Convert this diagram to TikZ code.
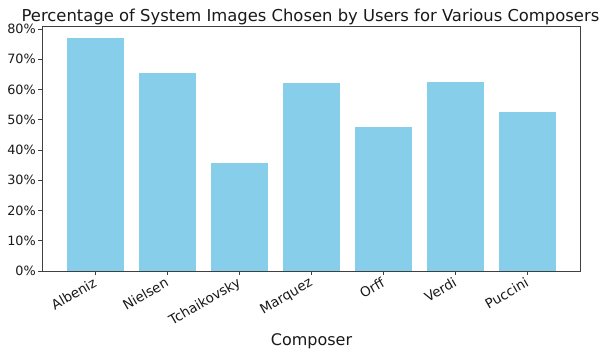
\documentclass[tikz,border=0pt]{standalone}
\usepackage{fontspec}
\setmainfont{DejaVu Sans}
\definecolor{barblue}{HTML}{87CEEB}
\definecolor{spine}{HTML}{404040}
\begin{document}
\begin{tikzpicture}[x=1pt,y=-1pt,
  bar/.style={fill=barblue,draw=none},
  spineline/.style={draw=spine,line width=0.9pt},
  tickline/.style={draw=spine,line width=0.9pt},
  ylab/.style={anchor=east,font=\fontsize{12.8}{14}\selectfont,inner sep=0pt,text=black!90},
  xlab/.style={anchor=north east,rotate=30,font=\fontsize{13.5}{15}\selectfont,inner sep=0pt,text=black!90},
  titlestyle/.style={anchor=base,font=\fontsize{16.4}{18}\selectfont,inner sep=0pt,text=black!90},
  axlabel/.style={anchor=base,font=\fontsize{16}{18}\selectfont,inner sep=0pt,text=black!90}]
\useasboundingbox (0,0) rectangle (602,349);
% bars
\foreach \i/\v in {0/76.9,1/65.6,2/35.6,3/62.1,4/47.6,5/62.6,6/52.5}{
  \fill[bar] ({95.5+72*\i-28.8},271) rectangle ({95.5+72*\i+28.8},{271-3.025*\v});
}
% spines
\draw[spineline] (42.2,26.7) rectangle (580.7,271);
% y ticks
\foreach \v in {0,10,...,80}{
  \draw[tickline] (42.2,{271-3.025*\v}) -- (38.2,{271-3.025*\v});
  \node[ylab] (y\v) at (36,{271-3.025*\v}) {\v\%};
}
% x ticks
\foreach \i/\n in {0/Albeniz,1/Nielsen,2/Tchaikovsky,3/Marquez,4/Orff,5/Verdi,6/Puccini}{
  \draw[tickline] ({95.5+72*\i},271) -- ({95.5+72*\i},275);
  \node[xlab] (x\i) at ({95.5+72*\i-3},276.5) {\n};
}
\node[titlestyle] (title) at (310.5,21) {Percentage of System Images Chosen by Users for Various Composers};
\node[axlabel] (xaxis) at (311.5,345) {Composer};
\end{tikzpicture}
\end{document}
